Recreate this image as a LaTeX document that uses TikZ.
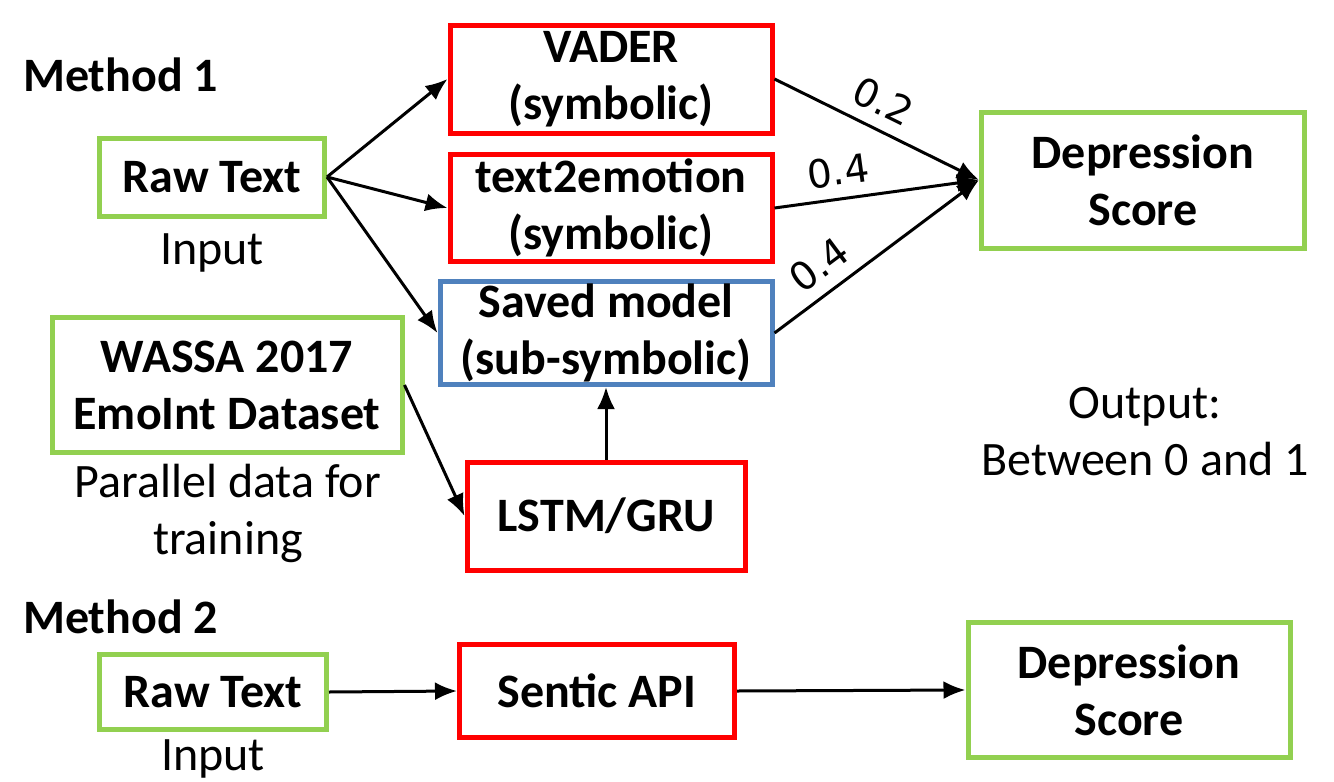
\documentclass[tikz,border=0pt]{standalone}
\usepackage{fontspec}
\setmainfont{Carlito}
\newfontfamily\wfont{DejaVu Sans}
\usetikzlibrary{arrows.meta}
\definecolor{boxgreen}{HTML}{92D050}
\definecolor{boxred}{HTML}{FF0000}
\definecolor{boxblue}{HTML}{4F81BD}
\begin{document}
\begin{tikzpicture}[x=0.5pt, y=-0.5pt,
    box/.style={draw, line width=2.5pt, fill=white, align=center, inner sep=0pt,
        font=\fontsize{24}{28.5}\selectfont\bfseries},
    databox/.style={box, draw=boxgreen},
    symbox/.style={box, draw=boxred},
    subbox/.style={box, draw=boxblue},
    lbl/.style={align=center, font=\fontsize{24}{28.5}\selectfont},
    wt/.style={font=\wfont\fontsize{19.5}{22}\selectfont, sloped, above, inner sep=6pt},
    arr/.style={line width=1.5pt, -{Latex[length=11pt,width=9pt]}}]
    \useasboundingbox (0,0) rectangle (1334,782);
    % method 1
    \node[lbl, font=\fontsize{24}{28.5}\selectfont\bfseries, anchor=west] (m1) at (16,75) {Method 1};
    \node[databox, minimum width=112.5pt, minimum height=39pt] (raw1) at (212,177) {Raw Text};
    \node[lbl] (in1) at (212,253) {Input};
    \node[symbox, minimum width=161pt, minimum height=54pt] (vader) at (611,79) {VADER\\(symbolic)};
    \node[symbox, minimum width=161pt, minimum height=53.5pt] (t2e) at (611,208) {text2emotion\\(symbolic)};
    \node[subbox, minimum width=166pt, minimum height=51.5pt] (saved) at (606,333) {Saved model\\(sub-symbolic)};
    \node[databox, minimum width=175pt, minimum height=67.5pt] (wassa) at (227,385) {WASSA 2017\\EmoInt Dataset};
    \node[lbl] (par) at (228,513) {Parallel data for\\training};
    \node[symbox, minimum width=139pt, minimum height=54pt] (lstm) at (606,516) {LSTM/GRU};
    \node[databox, minimum width=161.5pt, minimum height=68pt] (ds1) at (1143,180) {Depression\\Score};
    \node[lbl] (out) at (1145,432) {Output:\\Between 0 and 1};
    \draw[arr] (raw1.east) -- (vader.west);
    \draw[arr] (raw1.east) -- (t2e.west);
    \draw[arr] (raw1.east) -- (saved.west);
    \draw[arr] (vader.east) -- node[wt, pos=0.47] {0.2} (ds1.west);
    \draw[arr] (t2e.east) -- node[wt, pos=0.33] {0.4} (ds1.west);
    \draw[arr] (saved.east) -- node[wt, pos=0.3] {0.4} (ds1.west);
    \draw[arr] (wassa.east) -- (lstm.west);
    \draw[arr] (lstm.north) -- (saved.south);
    % method 2
    \node[lbl, font=\fontsize{24}{28.5}\selectfont\bfseries, anchor=west] (m2) at (16,617) {Method 2};
    \node[databox, minimum width=113.5pt, minimum height=37.5pt] (raw2) at (213,692) {Raw Text};
    \node[lbl] (in2) at (213,759) {Input};
    \node[symbox, minimum width=137.5pt, minimum height=46.5pt] (sentic) at (597,691) {Sentic API};
    \node[databox, minimum width=161pt, minimum height=67.5pt] (ds2) at (1129,690) {Depression\\Score};
    \draw[arr] (raw2.east) -- (sentic.west);
    \draw[arr] (sentic.east) -- (ds2.west);
\end{tikzpicture}
\end{document}
